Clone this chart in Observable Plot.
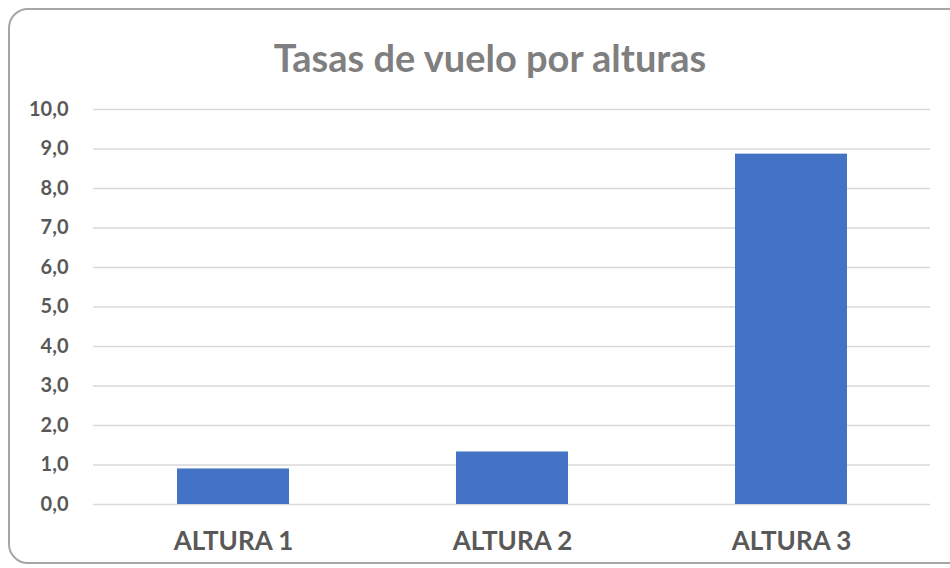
<!DOCTYPE html>
<html>
<head>
<meta charset="utf-8">
<script src="https://cdn.jsdelivr.net/npm/d3@7"></script>
<script src="https://cdn.jsdelivr.net/npm/@observablehq/plot@0.6"></script>
<style>
  html, body { margin: 0; padding: 0; background: #fff; overflow: hidden; }
  #wrap { position: relative; width: 950px; height: 568px; overflow: hidden; }
  #border { position: absolute; left: 8px; top: 8px; width: 960px; height: 556px;
            border: 2px solid #a6a6a6; border-radius: 20px; box-sizing: border-box; }
  #chart { position: absolute; left: 0; top: 0; }
</style>
</head>
<body>
<div id="wrap"><div id="border"></div><div id="chart"></div></div>
<script>
const title = "Tasas de vuelo por alturas";
const categories = ["ALTURA 1", "ALTURA 2", "ALTURA 3"];
const values = [0.90, 1.33, 8.87];
const yTicks = [0, 1, 2, 3, 4, 5, 6, 7, 8, 9, 10];

const data = categories.map((c, i) => ({category: c, value: values[i]}));
const fmt = d => d.toFixed(1).replace(".", ",");

const chart = Plot.plot({
  width: 950,
  height: 568,
  marginLeft: 93,
  marginRight: 20,
  marginTop: 109,
  marginBottom: 64,
  style: {fontFamily: "Lato, sans-serif", background: "transparent", overflow: "visible"},
  x: {domain: categories, paddingInner: 0.6, paddingOuter: 0.3, label: null},
  y: {domain: [0, 10], label: null},
  marks: [
    Plot.gridY(yTicks, {stroke: "#d9d9d9", strokeOpacity: 1, strokeWidth: 1.5}),
    Plot.barY(data, {x: "category", y: "value", fill: "#4472c4"}),
    Plot.axisY(yTicks, {tickSize: 0, tickPadding: 25, tickFormat: fmt,
      fontSize: 20, fontWeight: "bold", fill: "#595959", label: null}),
    Plot.axisX({tickSize: 0, tickPadding: 27, fontSize: 26, fontWeight: "bold",
      fill: "#595959", label: null}),
    Plot.text([title], {frameAnchor: "top", dy: -64, dx: -22, fontSize: 38,
      fontWeight: "bold", fill: "#7f7f7f"})
  ]
});
document.getElementById("chart").appendChild(chart);
</script>
</body>
</html>
